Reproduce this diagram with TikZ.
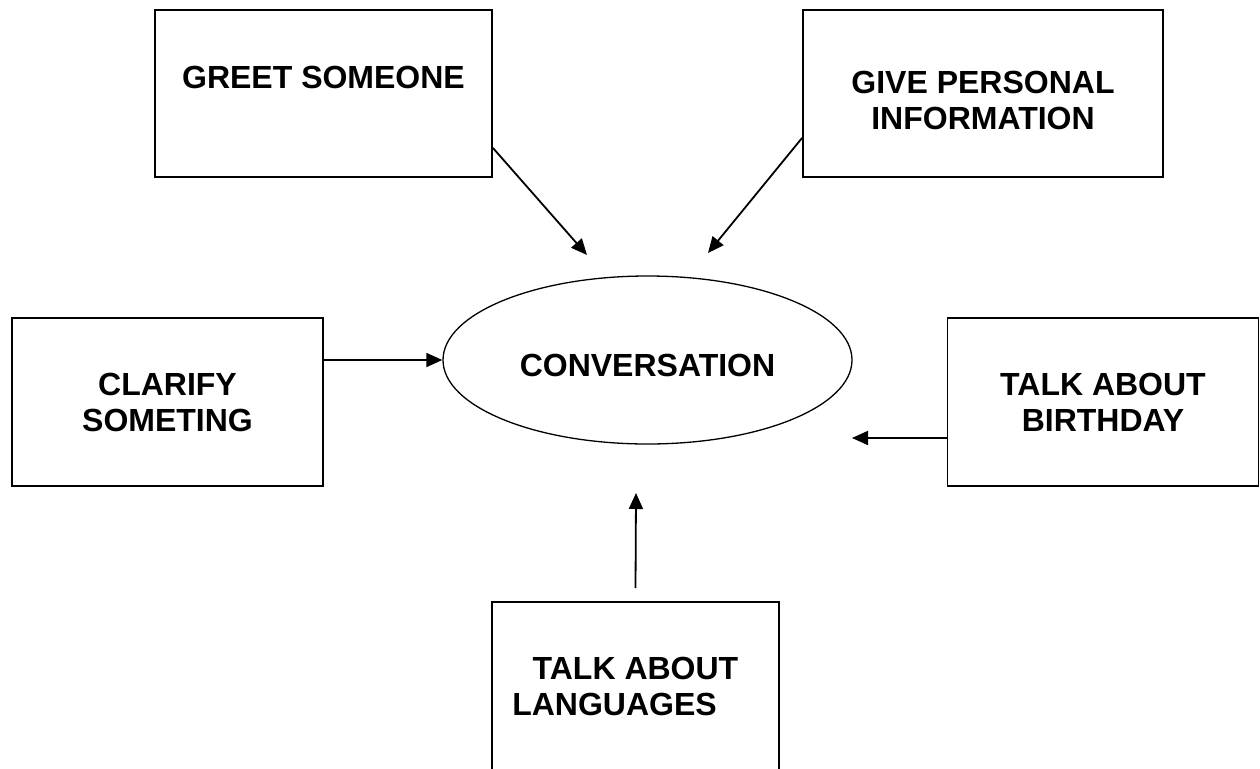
\documentclass[tikz,border=0pt]{standalone}
\usepackage{fontspec}
\setmainfont{Liberation Sans}
\usetikzlibrary{ shapes.geometric, % For the ellipse in the middle
                 arrows.meta,      % For the filled arrow tips
                 positioning,      % For easy node-relative placements
               }
\tikzstyle{link} = [-{Triangle[length=16pt, width=14pt]}, line width=1.8pt]
\tikzstyle{task} = [rectangle, draw=black, line width=1.8pt, inner sep=0pt, align=center,
                    font=\bfseries\fontsize{32}{36}\selectfont]
\tikzstyle{topic} = [ellipse, draw=black, line width=1.3pt, inner sep=0pt,
                     minimum width=409pt, minimum height=168pt,
                     font=\bfseries\fontsize{32}{36}\selectfont]

\begin{document}
\begin{tikzpicture}[x=1pt, y=-1pt]
  \useasboundingbox (0, 0) rectangle (1260, 768);
  \node (conv) [topic, text height=33.5pt] at (647.5, 360) {CONVERSATION};

  \node (greet) [task, minimum width=337pt, minimum height=167pt, text depth=33pt]
        at (323.5, 93.5) {GREET SOMEONE};
  \node (give) [task, minimum width=360pt, minimum height=167pt, text height=72pt]
        at (983, 93.5) {GIVE PERSONAL\\INFORMATION};
  \node (clarify) [task, minimum width=311pt, minimum height=168pt]
        at (167.5, 402) {CLARIFY\\SOMETING};
  \node (birthday) [task, minimum width=311pt, minimum height=168pt]
        at (1103, 402) {TALK ABOUT\\BIRTHDAY};
  \node (lang) [task, minimum width=287pt, minimum height=169pt]
        at (635.5, 686.5) {TALK ABOUT\\LANGUAGES\kern42pt};

  \coordinate (c1) at (587, 255);
  \coordinate (c2) at (708, 253);
  \coordinate (c3) at (852, 438);
  \coordinate (c4) at (636, 493);

  \draw [link] ([yshift=30pt]greet.south east) -- (c1);
  \draw [link] ([yshift=40pt]give.south west) -- (c2);
  \draw [link] (clarify.east |- conv.west) -- (conv.west);
  \draw [link] ([yshift=-36pt]birthday.west) -- (c3);
  \draw [link] ([yshift=13pt]lang.north) -- (c4);
\end{tikzpicture}
\end{document}
